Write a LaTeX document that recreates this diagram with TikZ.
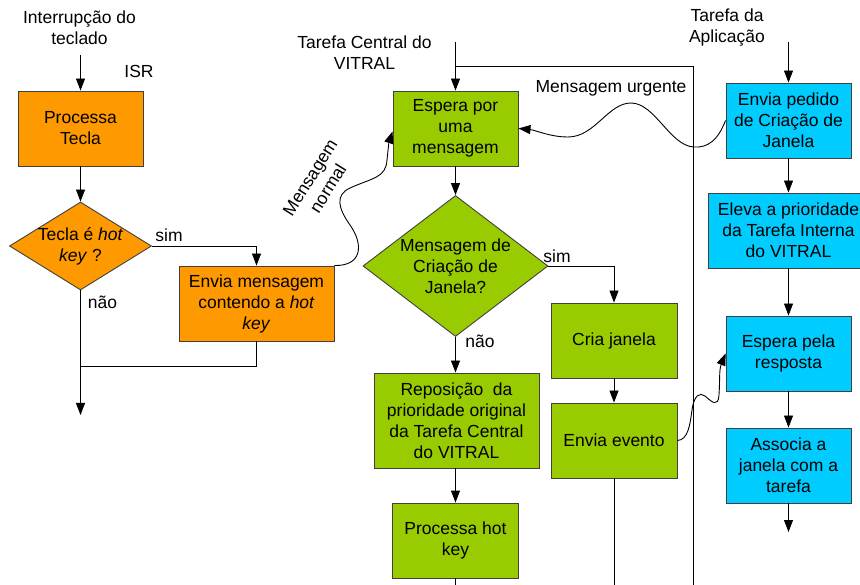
\documentclass[tikz,border=0pt]{standalone}
\usepackage{fontspec}
\setmainfont{Liberation Sans}
\usetikzlibrary{shapes.geometric,arrows.meta}
\definecolor{keyorange}{HTML}{FF9900}
\definecolor{vitgreen}{HTML}{99CC00}
\definecolor{appcyan}{HTML}{00CCFF}

\begin{document}
\begin{tikzpicture}[x=1pt,y=-1pt,
  every node/.style={font=\fontsize{17.5}{21}\selectfont},
  proc/.style={draw=black!75, line width=0.9pt, align=center, inner sep=0pt,
               minimum width=125pt, minimum height=75pt},
  dec/.style={draw=black!75, line width=0.9pt, shape=diamond, inner sep=0pt},
  flow/.style={line width=0.9pt, -{Triangle[length=12pt,width=9pt]}},
  link/.style={line width=0.9pt},
  caption/.style={align=center, inner sep=0pt},
]
\useasboundingbox (0,0) rectangle (860,585);
\clip (0,0) rectangle (860,585);

% ---------- ISR column ----------
\node[caption] (intr) at (79.5,28) {Interrupção do\\teclado};
\node[caption] (isr) at (139,71) {ISR};
\node[proc, fill=keyorange] (pt) at (80.5,128.5) {Processa\\Tecla};
\node[dec, fill=keyorange, minimum width=142pt, minimum height=88pt] (d1) at (80.5,246) {};
\node[caption] (d1t) at (d1) {Tecla é \textit{hot}\\\textit{key} ?};
\node[proc, fill=keyorange, minimum width=155pt] (em) at (256.5,303.5)
  {Envia mensagem\\contendo a \textit{hot}\\\textit{key}};
\node[caption] (sim1) at (169,235) {sim};
\node[caption] (nao1) at (102.5,302) {não};

\coordinate (inA) at (80.5,55);
\coordinate (outA) at (80.5,415);
\coordinate (joinA) at (80.5,366);
\draw[flow] (inA) -- (pt.north);
\draw[flow] (pt.south) -- (d1.north);
\draw[flow] (d1.east) -| (em.north);
\draw[flow] (d1.south) -- (outA);
\draw[link] (em.south) |- (joinA);

% ---------- VITRAL central task ----------
\node[caption] (vit) at (364.5,53) {Tarefa Central do\\VITRAL};
\node[proc, fill=vitgreen] (ep) at (455.5,128.5) {Espera por\\uma\\mensagem};
\node[dec, fill=vitgreen, minimum width=185pt, minimum height=141pt] (d2) at (455.5,266) {};
\node[caption] (d2t) at (d2) {Mensagem de\\Criação de\\Janela?};
\node[proc, fill=vitgreen, minimum width=165pt, minimum height=95pt] (rp) at (456.5,420.5)
  {Reposição\ \ da\\prioridade original\\da Tarefa Central\\do VITRAL};
\node[proc, fill=vitgreen, minimum width=126pt] (ph) at (455.5,540.5) {Processa hot\\key};
\node[proc, fill=vitgreen, minimum width=126pt] (cj) at (614,340.5) {Cria janela};
\node[proc, fill=vitgreen, minimum width=126pt] (ee) at (614,440.5) {Envia evento};
\node[caption] (sim2) at (557,256) {sim};
\node[caption] (nao2) at (480,341) {não};

\coordinate (inC) at (455.5,42);
\coordinate (loopTop) at (455.5,66.5);
\coordinate (loopBot) at (693,590);
\coordinate (outPh) at (455.5,590);
\coordinate (outEe) at (614,590);
\draw[flow] (inC) -- (ep.north);
\draw[link] (loopBot) |- (loopTop);
\draw[flow] (ep.south) -- (d2.north);
\draw[flow] (d2.east) -| (cj.north);
\draw[flow] (d2.south) -- (d2.south |- rp.north);
\draw[flow] (rp.south -| ph.north) -- (ph.north);
\draw[link] (ph.south) -- (outPh);
\draw[flow] (cj.south) -- (ee.north);
\draw[link] (ee.south) -- (outEe);

% ---------- application task ----------
\node[caption] (app) at (727,28) {Tarefa da\\Aplicação};
\node[proc, fill=appcyan] (pe) at (788.5,120.5) {Envia pedido\\de Criação de\\Janela};
\node[proc, fill=appcyan, minimum width=161pt] (el) at (788.5,230.5)
  {Eleva a prioridade\\da Tarefa Interna\\do VITRAL};
\node[proc, fill=appcyan] (er) at (788.5,353.5) {Espera pela\\resposta};
\node[proc, fill=appcyan] (as) at (788.5,465.5) {Associa a\\janela com a\\tarefa};

\coordinate (inR) at (788.5,42);
\coordinate (outR) at (788.5,532);
\draw[flow] (inR) -- (pe.north);
\draw[flow] (pe.south) -- (el.north);
\draw[flow] (el.south) -- (er.north);
\draw[flow] (er.south) -- (as.north);
\draw[flow] (as.south) -- (outR);

% ---------- messages between tasks ----------
\node[caption] (mu) at (611,88) {Mensagem urgente};
\node[caption, rotate=58] (mn) at (319,183) {Mensagem\\normal};

\draw[flow] (pe.west) .. controls (718,140) and (708,148) .. (694,147)
  .. controls (670,146) and (655,103) .. (631,103)
  .. controls (608,103) and (595,137) .. (568,137)
  .. controls (550,137) and (535,130) .. (ep.east);

\draw[flow] (em.north east) .. controls (362,266) and (364,245) .. (350,225)
  .. controls (338,208) and (335,195) .. (350,188)
  .. controls (372,178) and (386,178) .. (387,160)
  .. controls (388,150) and (389,142) .. ([yshift=-3pt]ep.west);

\draw[flow] (ee.east) .. controls (688,440) and (690,425) .. (692,410)
  .. controls (694,395) and (700,392) .. (705,396)
  .. controls (712,402) and (718,408) .. (719,395)
  .. controls (720,380) and (719,370) .. (er.west);
\end{tikzpicture}
\end{document}
